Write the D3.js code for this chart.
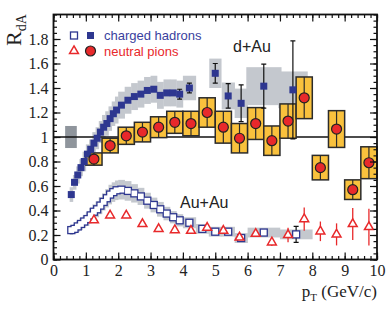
<!DOCTYPE html>
<html>
<head>
<meta charset="utf-8">
<script src="https://cdn.jsdelivr.net/npm/d3@7"></script>
<style>
  body { margin: 0; background: #fff; }
  svg { display: block; }
</style>
</head>
<body>
<div id="chart"></div>
<script>
// pT bins for the neutral pion points (both systems)
const pionPt = [1.25, 1.75, 2.25, 2.75, 3.25, 3.75, 4.25, 4.75, 5.25, 5.75, 6.25, 6.75, 7.25, 7.75, 8.25, 8.75, 9.25, 9.75];
const pionDAu = [0.82, 0.93, 1.01, 1.04, 1.08, 1.12, 1.11, 1.20, 1.08, 0.99, 1.11, 0.97, 1.13, 1.32, 0.75, 1.065, 0.57, 0.79];
const pionDAuSys = [0.05, 0.06, 0.07, 0.08, 0.085, 0.09, 0.10, 0.12, 0.13, 0.12, 0.13, 0.12, 0.14, 0.17, 0.10, 0.15, 0.08, 0.13];
const pionAuAu = [0.32, 0.36, 0.36, 0.29, 0.25, 0.24, 0.235, 0.26, 0.235, 0.18, 0.21, 0.14, 0.20, 0.33, 0.23, 0.205, 0.29, 0.265];
const pionAuAuErr = [0, 0, 0, 0, 0, 0, 0, 0, 0, 0, 0.02, 0.03, 0.06, 0.095, 0.08, 0.09, 0.13, 0.15];

// charged hadrons, d+Au
const hadDAuPt = [0.55, 0.65, 0.75, 0.85, 0.95, 1.05, 1.15, 1.25, 1.35, 1.45, 1.55, 1.65, 1.75, 1.85, 1.95,
  2.1, 2.3, 2.5, 2.7, 2.9, 3.1, 3.3, 3.5, 3.7, 3.9, 4.2, 5.0, 5.4, 5.8, 6.5, 7.4];
const hadDAu = [0.53, 0.63, 0.69, 0.75, 0.80, 0.86, 0.90, 0.95, 0.99, 1.04, 1.08, 1.11, 1.15, 1.19, 1.22,
  1.26, 1.30, 1.33, 1.35, 1.38, 1.39, 1.34, 1.36, 1.36, 1.35, 1.40, 1.52, 1.335, 1.275, 1.415, 1.385];
const hadDAuErr = [0, 0, 0, 0, 0, 0, 0, 0, 0, 0, 0, 0, 0, 0, 0,
  0, 0, 0, 0, 0, 0, 0, 0, 0, 0.04, 0.04, 0.08, 0.10, 0.15, 0.18, 0.40];
const hadDAuSys = [0.06, 0.06, 0.07, 0.07, 0.08, 0.08, 0.08, 0.09, 0.09, 0.09, 0.10, 0.10, 0.10, 0.10, 0.11,
  0.11, 0.11, 0.11, 0.11, 0.11, 0.11, 0.11, 0.11, 0.11, 0.11, 0.10, 0.12, 0.11, 0.12, 0.155, 0.15];
const hadDAuBin = [0.1, 0.1, 0.1, 0.1, 0.1, 0.1, 0.1, 0.1, 0.1, 0.1, 0.1, 0.1, 0.1, 0.1, 0.1,
  0.2, 0.2, 0.2, 0.2, 0.2, 0.2, 0.2, 0.2, 0.2, 0.2, 0.4, 0.37, 0.4, 0.4, 1.08, 0.9];

// charged hadrons, Au+Au
const hadAuAuPt = [0.55, 0.65, 0.75, 0.85, 0.95, 1.05, 1.15, 1.25, 1.35, 1.45, 1.55, 1.65, 1.75, 1.85, 1.95,
  2.1, 2.3, 2.5, 2.7, 2.9, 3.1, 3.3, 3.5, 3.7, 3.9, 4.2, 4.6, 5.0, 5.4, 5.8, 6.5, 7.5];
const hadAuAu = [0.24, 0.25, 0.27, 0.29, 0.31, 0.33, 0.36, 0.39, 0.41, 0.44, 0.47, 0.50, 0.53, 0.55, 0.565,
  0.57, 0.56, 0.54, 0.515, 0.48, 0.445, 0.41, 0.375, 0.345, 0.32, 0.30, 0.25, 0.227, 0.227, 0.175, 0.22, 0.205];
const hadAuAuSys = [0.04, 0.04, 0.045, 0.05, 0.05, 0.055, 0.06, 0.06, 0.065, 0.07, 0.07, 0.075, 0.08, 0.08, 0.08,
  0.08, 0.08, 0.075, 0.07, 0.065, 0.06, 0.06, 0.055, 0.05, 0.05, 0.045, 0.04, 0.04, 0.04, 0.04, 0.04, 0.04];
const hadAuAuBin = [0.1, 0.1, 0.1, 0.1, 0.1, 0.1, 0.1, 0.1, 0.1, 0.1, 0.1, 0.1, 0.1, 0.1, 0.1,
  0.2, 0.2, 0.2, 0.2, 0.2, 0.2, 0.2, 0.2, 0.2, 0.2, 0.4, 0.4, 0.4, 0.4, 0.4, 1.0, 1.0];
const hadAuAuErr = [0, 0, 0, 0, 0, 0, 0, 0, 0, 0, 0, 0, 0, 0, 0,
  0, 0, 0, 0, 0, 0, 0, 0, 0, 0, 0, 0, 0, 0, 0, 0, 0.065];

// d+Au normalisation box (pT range, value range)
const normBox = { x0: 0.36, x1: 0.72, y0: 0.91, y1: 1.09 };

const xTicks = [0, 1, 2, 3, 4, 5, 6, 7, 8, 9, 10];
const yTicks = [0, 0.2, 0.4, 0.6, 0.8, 1, 1.2, 1.4, 1.6, 1.8];

const width = 391,
    height = 312,
    margin = ({ top: 14.5, right: 14, bottom: 52.5, left: 53.5 });

const blue = "#2e3790",
    red = "#e8292b",
    gold = "#f9c13d",
    grey = "#c4c8ce";

const svg = d3.select("#chart")
    .append("svg")
    .attr("width", width)
    .attr("height", height)
    .attr("viewBox", [0, 0, width, height]);

const x = d3.scaleLinear()
    .domain([0, 10])
    .range([margin.left, width - margin.right]);

const y = d3.scaleLinear()
    .domain([0, 2])
    .range([height - margin.bottom, margin.top]);

const dAu = hadDAuPt.map((p, i) => ({ p, v: hadDAu[i], e: hadDAuErr[i], s: hadDAuSys[i], w: hadDAuBin[i] }));
const auAu = hadAuAuPt.map((p, i) => ({ p, v: hadAuAu[i], e: hadAuAuErr[i], s: hadAuAuSys[i], w: hadAuAuBin[i] }));
const pions = pionPt.map((p, i) => ({ p, v: pionDAu[i], s: pionDAuSys[i], a: pionAuAu[i], ae: pionAuAuErr[i] }));

const plot = svg.append("g");

// grey systematic bands for the hadrons
plot.selectAll(".sys-dau")
  .data(dAu)
  .join("rect")
    .attr("x", d => x(d.p - d.w / 2))
    .attr("width", d => x(d.p + d.w / 2) - x(d.p - d.w / 2) + 0.3)
    .attr("y", d => y(d.v + d.s))
    .attr("height", d => y(d.v - d.s) - y(d.v + d.s))
    .attr("fill", grey);

plot.selectAll(".sys-auau")
  .data(auAu)
  .join("rect")
    .attr("x", d => x(d.p - d.w / 2))
    .attr("width", d => x(d.p + d.w / 2) - x(d.p - d.w / 2) + 0.3)
    .attr("y", d => y(d.v + d.s))
    .attr("height", d => y(d.v - d.s) - y(d.v + d.s))
    .attr("fill", grey);

plot.append("rect")
    .attr("x", x(normBox.x0))
    .attr("y", y(normBox.y1))
    .attr("width", x(normBox.x1) - x(normBox.x0))
    .attr("height", y(normBox.y0) - y(normBox.y1))
    .attr("fill", "#8f959c");

// unity line
plot.append("line")
    .attr("x1", x(0)).attr("x2", x(10))
    .attr("y1", y(1)).attr("y2", y(1))
    .attr("stroke", "#111")
    .attr("stroke-width", 1.3);

// d+Au pion systematic boxes
plot.selectAll(".pbox")
  .data(pions)
  .join("rect")
    .attr("x", d => x(d.p - 0.25))
    .attr("width", x(0.5) - x(0))
    .attr("y", d => y(d.v + d.s))
    .attr("height", d => y(d.v - d.s) - y(d.v + d.s))
    .attr("fill", gold)
    .attr("stroke", "#2b2b2b")
    .attr("stroke-width", 1.5);

plot.selectAll(".pbar")
  .data(pions)
  .join("line")
    .attr("x1", d => x(d.p)).attr("x2", d => x(d.p))
    .attr("y1", d => y(d.v + d.s)).attr("y2", d => y(d.v - d.s))
    .attr("stroke", "#2b2b2b")
    .attr("stroke-width", 1.2);

// Au+Au hadrons (open squares): outlines first, white insides on top,
// so overlapping squares merge into one outline
const sq = 7;
plot.selectAll(".aubar")
  .data(auAu.filter(d => d.e > 0))
  .join("path")
    .attr("d", d => `M${x(d.p)},${y(d.v + d.e)}V${y(d.v - d.e)}M${x(d.p) - 2.5},${y(d.v + d.e)}h5M${x(d.p) - 2.5},${y(d.v - d.e)}h5`)
    .attr("stroke", "#111")
    .attr("stroke-width", 1.2)
    .attr("fill", "none");

plot.selectAll(".auau-edge")
  .data(auAu)
  .join("rect")
    .attr("x", d => x(d.p) - sq / 2 - 0.65)
    .attr("y", d => y(d.v) - sq / 2 - 0.65)
    .attr("width", sq + 1.3)
    .attr("height", sq + 1.3)
    .attr("fill", blue);

plot.selectAll(".auau-in")
  .data(auAu)
  .join("rect")
    .attr("x", d => x(d.p) - sq / 2 + 0.65)
    .attr("y", d => y(d.v) - sq / 2 + 0.65)
    .attr("width", sq - 1.3)
    .attr("height", sq - 1.3)
    .attr("fill", "#fff");

// Au+Au pions (open triangles)
plot.selectAll(".tbar")
  .data(pions.filter(d => d.ae > 0))
  .join("line")
    .attr("x1", d => x(d.p)).attr("x2", d => x(d.p))
    .attr("y1", d => y(d.a + d.ae)).attr("y2", d => y(d.a - d.ae))
    .attr("stroke", red)
    .attr("stroke-width", 1.3);

const tri = d3.symbol().type(d3.symbolTriangle).size(34);
plot.selectAll(".tri")
  .data(pions)
  .join("path")
    .attr("transform", d => `translate(${x(d.p)},${y(d.a)})`)
    .attr("d", tri)
    .attr("fill", "#fff")
    .attr("stroke", red)
    .attr("stroke-width", 1.5);

// d+Au hadrons (filled squares)
plot.selectAll(".dbar")
  .data(dAu.filter(d => d.e > 0))
  .join("path")
    .attr("d", d => `M${x(d.p)},${y(d.v + d.e)}V${y(d.v - d.e)}M${x(d.p) - 2.5},${y(d.v + d.e)}h5M${x(d.p) - 2.5},${y(d.v - d.e)}h5`)
    .attr("stroke", "#111")
    .attr("stroke-width", 1.2)
    .attr("fill", "none");

plot.selectAll(".dau")
  .data(dAu)
  .join("rect")
    .attr("x", d => x(d.p) - sq / 2)
    .attr("y", d => y(d.v) - sq / 2)
    .attr("width", sq)
    .attr("height", sq)
    .attr("fill", blue);

// d+Au pions (red circles)
plot.selectAll(".pion")
  .data(pions)
  .join("circle")
    .attr("cx", d => x(d.p))
    .attr("cy", d => y(d.v))
    .attr("r", 5)
    .attr("fill", red)
    .attr("stroke", "#222")
    .attr("stroke-width", 1.2);

// axes, ticks inward
const serif = "'Liberation Serif', 'Times New Roman', serif";
const yMinor = d3.range(0, 2.001, 0.05);
const xMinor = d3.range(0, 10.001, 0.2);

function styleAxis(g) {
  g.select(".domain").remove();
  g.selectAll("line").attr("stroke", "#111").attr("stroke-width", 1.2);
  g.selectAll("text").attr("font-family", serif).attr("font-size", 16).attr("fill", "#222");
}

svg.append("g")
    .attr("transform", `translate(${margin.left},0)`)
    .call(d3.axisLeft(y).tickValues(yMinor).tickSize(-3.5).tickFormat(""))
    .call(styleAxis);
svg.append("g")
    .attr("transform", `translate(${margin.left},0)`)
    .call(d3.axisLeft(y).tickValues(yTicks).tickSize(-7).tickPadding(5).tickFormat(d3.format("")))
    .call(styleAxis);
svg.append("g")
    .attr("transform", `translate(${width - margin.right},0)`)
    .call(d3.axisRight(y).tickValues(yMinor).tickSize(-3.5).tickFormat(""))
    .call(styleAxis);
svg.append("g")
    .attr("transform", `translate(${width - margin.right},0)`)
    .call(d3.axisRight(y).tickValues(yTicks).tickSize(-7).tickFormat(""))
    .call(styleAxis);

svg.append("g")
    .attr("transform", `translate(0,${height - margin.bottom})`)
    .call(d3.axisBottom(x).tickValues(xMinor).tickSize(-3.5).tickFormat(""))
    .call(styleAxis);
svg.append("g")
    .attr("transform", `translate(0,${height - margin.bottom})`)
    .call(d3.axisBottom(x).tickValues(xTicks).tickSize(-7).tickPadding(5).tickFormat(d3.format("d")))
    .call(styleAxis);
svg.append("g")
    .attr("transform", `translate(0,${margin.top})`)
    .call(d3.axisTop(x).tickValues(xMinor).tickSize(-3.5).tickFormat(""))
    .call(styleAxis);
svg.append("g")
    .attr("transform", `translate(0,${margin.top})`)
    .call(d3.axisTop(x).tickValues(xTicks).tickSize(-7).tickFormat(""))
    .call(styleAxis);

// frame
svg.append("rect")
    .attr("x", margin.left)
    .attr("y", margin.top)
    .attr("width", width - margin.left - margin.right)
    .attr("height", height - margin.top - margin.bottom)
    .attr("fill", "none")
    .attr("stroke", "#111")
    .attr("stroke-width", 1.8);

// axis titles
const yl = svg.append("text")
    .attr("transform", "translate(21,46) rotate(-90)")
    .attr("font-family", serif)
    .attr("font-size", 22)
    .attr("fill", "#222");
yl.append("tspan").text("R");
yl.append("tspan").attr("font-size", 14).attr("dy", 5).text("dA");

const xl = svg.append("text")
    .attr("x", width - margin.right)
    .attr("y", 297)
    .attr("text-anchor", "end")
    .attr("font-family", serif)
    .attr("font-size", 17)
    .attr("fill", "#222");
xl.append("tspan").text("p");
xl.append("tspan").attr("font-size", 11).attr("dy", 4).text("T");
xl.append("tspan").attr("dy", -4).text(" (GeV/c)");

// system labels
const sans = "'Liberation Sans', Arial, sans-serif";
svg.append("text")
    .attr("x", 233).attr("y", 52)
    .attr("font-family", sans).attr("font-size", 16).attr("fill", "#222")
    .text("d+Au");
svg.append("text")
    .attr("x", 180).attr("y", 208)
    .attr("font-family", sans).attr("font-size", 16).attr("fill", "#222")
    .text("Au+Au");

// legend
const lg = svg.append("g");
lg.append("rect").attr("x", 74 - 3.5).attr("y", 35.5 - 3.5).attr("width", 7).attr("height", 7)
    .attr("fill", "#fff").attr("stroke", blue).attr("stroke-width", 1.3);
lg.append("rect").attr("x", 90.5 - 3.5).attr("y", 35.5 - 3.5).attr("width", 7).attr("height", 7)
    .attr("fill", blue);
lg.append("path").attr("transform", "translate(74,51)").attr("d", tri)
    .attr("fill", "#fff").attr("stroke", red).attr("stroke-width", 1.5);
lg.append("circle").attr("cx", 90.5).attr("cy", 51).attr("r", 5)
    .attr("fill", red).attr("stroke", "#222").attr("stroke-width", 1.2);
lg.append("text").attr("x", 104).attr("y", 40)
    .attr("font-family", sans).attr("font-size", 13).attr("fill", "#3a3f9e")
    .text("charged hadrons");
lg.append("text").attr("x", 104).attr("y", 55.5)
    .attr("font-family", sans).attr("font-size", 13).attr("fill", red)
    .text("neutral pions");
</script>
</body>
</html>
